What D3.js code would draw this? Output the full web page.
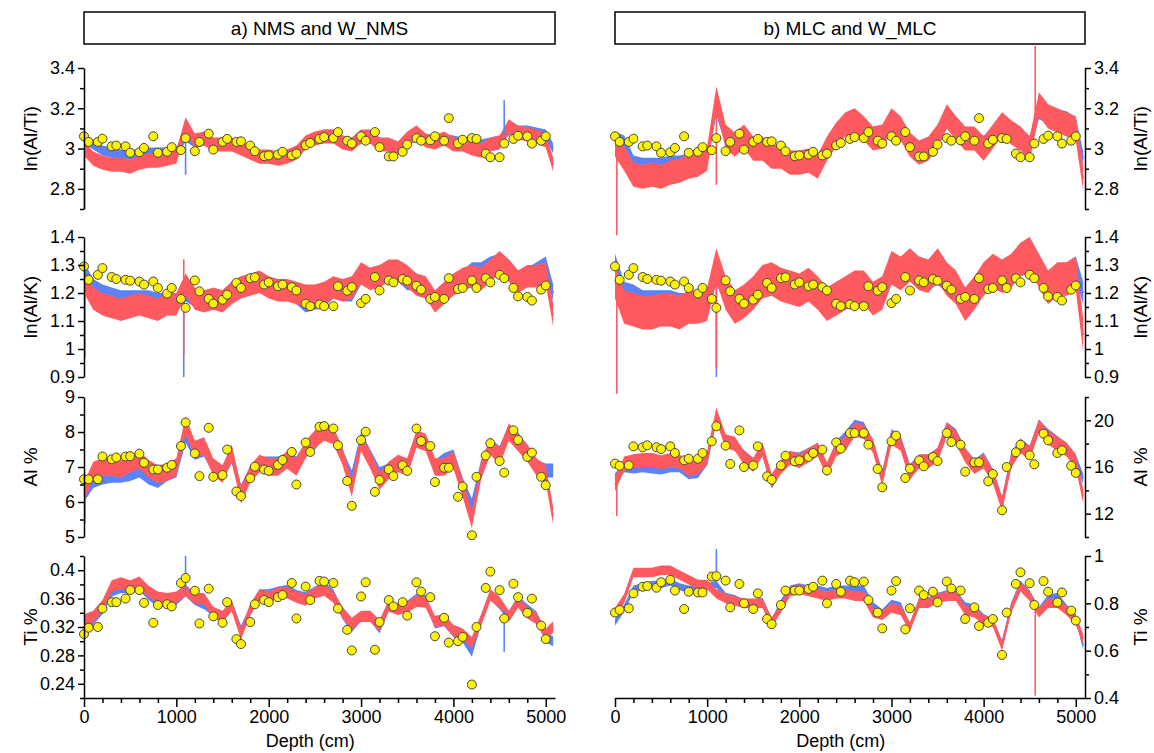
<!DOCTYPE html>
<html>
<head>
<meta charset="utf-8">
<script src="https://cdn.jsdelivr.net/npm/d3@7"></script>
<style>
  body { margin: 0; background: #fff; }
  svg text { font-family: "Liberation Sans", Arial, sans-serif; fill: #000; }
</style>
</head>
<body>
<svg id="chart" width="1154" height="753"></svg>
<script>
// depth grid of the scanner series (cm)
const depthGrid = [0,100,200,300,400,500,600,700,800,900,1000,1100,1200,1300,1400,1500,1600,1700,1800,1900,
  2000,2100,2200,2300,2400,2500,2600,2700,2800,2900,3000,3100,3200,3300,3400,3500,3600,3700,3800,3900,
  4000,4100,4200,4300,4400,4500,4600,4700,4800,4900,5000,5080]

// depths of the discrete (yellow) samples
const dotDepth = [0,50,150,200,300,350,450,500,600,650,750,800,900,950,1050,1100,1200,1250,1350,1400,
  1500,1550,1650,1700,1800,1850,1950,2000,2100,2150,2250,2300,2400,2450,2550,2600,2700,2750,2850,2900,
  3000,3050,3150,3200,3300,3350,3450,3500,3600,3650,3750,3800,3900,3950,4050,4100,4200,4250,4350,4400,
  4500,4550,4650,4700,4800,4850,4950,5000]

const rowLabels = ["ln(Al/Ti)", "ln(Al/K)", "Al %", "Ti %"]

// ---- panel a : NMS (blue) and W_NMS (red)
const nmsAlTi  = [3.05,3.02,2.99,2.98,2.97,2.97,2.97,2.98,2.98,2.98, 2.98,3.06,3.03,3.04,3.02,3.02,3.02,3.00,2.98,2.96,
  2.96,2.96,2.96,2.98,3.03,3.05,3.07,3.07,3.04,3.03, 3.05,3.05,3.03,3.02,3.01,3.04,3.06,3.04,3.04,3.05,
  3.04,3.03,3.02,3.02,3.03,3.04,3.09,3.09,3.09,3.08, 3.07,3.00]
const wnmsAlTi = [3.00,2.95,2.93,2.92,2.92,2.91,2.93,2.94,2.94,2.95, 2.96,3.12,3.04,3.05,3.02,3.02,3.02,3.00,2.98,2.96,
  2.96,2.95,2.96,2.98,3.03,3.05,3.06,3.06,3.03,3.02, 3.06,3.06,3.02,3.02,3.00,3.05,3.08,3.04,3.03,3.05,
  3.02,3.02,3.00,2.99,3.02,3.03,3.11,3.08,3.07,3.06, 3.04,2.92]
const nmsAlK   = [1.28,1.22,1.20,1.19,1.18,1.18,1.18,1.18,1.17,1.17, 1.17,1.20,1.18,1.17,1.18,1.18,1.21,1.23,1.23,1.23,
  1.22,1.21,1.21,1.19,1.16,1.17,1.18,1.21,1.20,1.20, 1.26,1.26,1.27,1.28,1.27,1.24,1.24,1.21,1.17,1.20,
  1.23,1.25,1.28,1.28,1.30,1.31,1.29,1.25,1.26,1.28, 1.30,1.20]
const wnmsAlK  = [1.24,1.18,1.16,1.15,1.14,1.15,1.16,1.15,1.14,1.16, 1.16,1.23,1.18,1.17,1.18,1.17,1.20,1.22,1.23,1.24,
  1.22,1.21,1.21,1.20,1.19,1.19,1.20,1.22,1.21,1.22, 1.27,1.25,1.26,1.28,1.28,1.26,1.23,1.22,1.17,1.20,
  1.23,1.25,1.26,1.25,1.28,1.31,1.28,1.24,1.26,1.26, 1.27,1.12]
const nmsAl    = [6.2,6.6,6.7,6.75,6.75,6.8,6.9,6.7,6.6,6.8, 6.9,7.9,7.4,7.5,7.0,6.85,7.3,6.3,6.8,7.1,
  7.1,7.1,7.2,7.1,7.5,7.7,8.0,7.9,7.3,6.7, 7.8,7.3,6.8,6.9,7.1,7.0,7.8,7.7,7.0,7.2,
  7.3,6.5,5.9,7.0,7.6,7.4,8.0,7.8,7.4,7.0, 6.9,6.9]
const wnmsAl   = [6.3,6.9,7.0,7.0,6.95,7.1,7.2,6.95,6.8,6.85, 7.0,8.2,7.5,7.6,7.0,6.8,7.4,6.2,6.8,7.1,
  7.0,7.0,7.2,7.0,7.5,7.8,8.0,7.9,7.3,6.4, 7.7,7.2,6.6,6.9,7.1,7.0,7.8,7.7,7.0,7.0,
  7.2,6.4,5.5,6.9,7.6,7.3,8.0,7.7,7.4,7.0, 6.8,5.6]
const nmsTi    = [0.32,0.33,0.345,0.37,0.375,0.374,0.378,0.365,0.355,0.355, 0.358,0.37,0.358,0.352,0.342,0.333,0.35,0.315,0.343,0.366,
  0.366,0.37,0.372,0.365,0.362,0.37,0.376,0.366,0.338,0.32, 0.335,0.335,0.318,0.35,0.346,0.35,0.36,0.358,0.325,0.328,
  0.313,0.305,0.285,0.33,0.365,0.352,0.335,0.357,0.345,0.335, 0.305,0.30]
const wnmsTi   = [0.33,0.335,0.35,0.378,0.382,0.378,0.383,0.37,0.362,0.36, 0.362,0.372,0.36,0.36,0.34,0.335,0.35,0.31,0.345,0.365,
  0.362,0.368,0.368,0.362,0.358,0.368,0.372,0.362,0.34,0.325, 0.335,0.335,0.322,0.35,0.345,0.348,0.356,0.355,0.328,0.33,
  0.315,0.31,0.298,0.33,0.365,0.355,0.335,0.355,0.34,0.332, 0.31,0.32]

// ---- panel b : MLC (blue) and W_MLC (red)
const mlcAlTi  = [3.05,3.03,2.93,2.92,2.92,2.92,2.93,2.93,2.94,2.94, 2.96,3.20,3.05,3.02,3.04,3.00,3.00,2.97,2.96,2.94,
  2.94,2.94,2.94,3.00,3.06,3.10,3.14,3.10,3.05,3.05, 3.12,3.10,3.02,2.98,3.00,3.05,3.14,3.10,3.05,3.05,
  3.03,3.05,3.10,3.08,3.05,3.03,3.18,3.16,3.16,3.15, 3.12,2.95]
const wmlcAlTi = [3.02,2.95,2.87,2.86,2.87,2.86,2.88,2.89,2.91,2.92, 2.95,3.25,3.06,3.02,3.06,3.00,3.00,2.96,2.96,2.93,
  2.93,2.94,2.91,3.00,3.07,3.12,3.14,3.10,3.05,3.06, 3.14,3.10,3.02,2.98,3.00,3.06,3.16,3.10,3.05,3.05,
  3.00,3.06,3.12,3.08,3.05,3.00,3.22,3.16,3.14,3.12, 3.10,2.85]
const mlcAlK   = [1.30,1.20,1.19,1.17,1.17,1.17,1.17,1.16,1.16,1.16, 1.17,1.27,1.20,1.16,1.18,1.20,1.24,1.25,1.24,1.23,
  1.21,1.22,1.19,1.15,1.16,1.18,1.20,1.20,1.17,1.20, 1.27,1.26,1.28,1.27,1.25,1.27,1.24,1.21,1.15,1.20,
  1.25,1.27,1.26,1.28,1.30,1.31,1.27,1.22,1.25,1.27, 1.29,1.20]
const wmlcAlK  = [1.24,1.15,1.14,1.13,1.13,1.14,1.14,1.13,1.15,1.15, 1.16,1.30,1.20,1.15,1.17,1.20,1.24,1.25,1.23,1.22,
  1.21,1.23,1.20,1.16,1.18,1.20,1.22,1.22,1.18,1.20, 1.29,1.27,1.30,1.27,1.26,1.30,1.25,1.22,1.16,1.20,
  1.25,1.28,1.26,1.28,1.32,1.34,1.28,1.22,1.25,1.25, 1.27,1.05]
const mlcAl    = [15.0,16.0,15.9,16.0,15.9,15.8,16.0,16.0,15.4,15.5, 16.6,20.3,18.3,17.8,17.0,16.3,17.4,14.6,16.0,16.9,
  16.8,17.2,17.6,15.8,17.8,18.6,19.6,19.4,17.8,15.2, 18.8,18.2,15.8,16.6,16.6,17.2,19.4,18.8,17.2,16.2,
  16.8,15.4,13.0,16.8,18.0,17.4,19.6,18.8,18.2,17.6, 16.6,15.0]
const wmlcAl   = [14.5,16.3,16.5,16.6,16.6,16.4,16.6,16.5,15.8,16.0, 16.8,20.5,18.2,18.0,16.8,16.2,17.5,14.8,16.0,16.8,
  16.5,17.0,17.5,15.8,17.5,18.0,19.2,19.0,17.8,15.0, 18.5,18.0,15.5,16.5,16.5,17.0,19.2,18.5,17.0,16.0,
  16.5,15.2,12.8,16.5,17.8,17.2,19.5,18.5,18.0,17.5, 16.5,13.5]
const mlcTi    = [0.72,0.78,0.86,0.87,0.88,0.88,0.89,0.87,0.86,0.86, 0.87,0.88,0.83,0.82,0.80,0.80,0.81,0.72,0.80,0.86,
  0.87,0.86,0.86,0.85,0.86,0.86,0.86,0.86,0.79,0.76, 0.80,0.79,0.70,0.81,0.81,0.83,0.84,0.84,0.79,0.78,
  0.74,0.72,0.63,0.79,0.88,0.84,0.77,0.82,0.83,0.78, 0.74,0.62]
const wmlcTi   = [0.76,0.82,0.93,0.93,0.93,0.94,0.94,0.92,0.90,0.88, 0.88,0.84,0.82,0.81,0.80,0.80,0.80,0.72,0.78,0.85,
  0.86,0.85,0.84,0.83,0.84,0.84,0.83,0.83,0.76,0.75, 0.78,0.77,0.70,0.80,0.80,0.82,0.83,0.83,0.77,0.76,
  0.73,0.72,0.62,0.78,0.87,0.83,0.76,0.80,0.80,0.77, 0.73,0.65]

// scatter of the scanner signal (half width of the band, in data units) per row
const noiseNMS  = [0.025, 0.03, 0.2, 0.007]
const noiseWNMS = [0.035, 0.04, 0.25, 0.008]
const noiseMLC  = [0.035, 0.04, 0.45, 0.015]
const noiseWMLC = [0.06, 0.06, 0.6, 0.02]

// single-sample spikes: [row, series (0 blue, 1 red), depth, value]
const spikesNMS = [[0,1,5,2.7],[0,0,1100,2.87],[0,0,4550,3.24],[1,1,10,0.97],[1,0,1080,0.9],[1,1,1080,0.98],
  [1,1,1080,1.32],[2,1,10,5.4],[3,0,1100,0.42],[3,0,4550,0.285]]
const spikesMLC = [[0,1,20,2.57],[0,1,1100,2.82],[0,1,4560,3.51],[1,1,20,0.84],[1,0,1100,0.9],[1,1,1100,0.93],
  [2,1,20,11.8],[3,0,1100,1.03],[3,1,4560,0.41]]

// discrete samples
const dotAlTi = [3.061,3.033,3.033,3.049,3.011,3.015,3.011,2.979,2.982,3.003, 3.061,2.979,2.984,3.007,2.992,3.052,2.987,3.033,3.074,2.995,
  3.033,3.048,3.033,3.036,3.015,2.987,2.962,2.966,2.970,2.984, 2.966,2.975,3.016,3.028,3.048,3.057,3.052,3.082,3.039,3.025,
  3.061,3.039,3.082,3.007,2.961,2.961,2.984,3.020,3.052,3.039, 3.041,3.061,3.039,3.151,3.025,3.044,3.052,3.048,2.975,2.957,
  2.957,3.025,3.048,3.064,3.061,3.025,3.039,3.061]
const dotAlK = [1.295,1.247,1.265,1.289,1.257,1.250,1.247,1.244,1.241,1.230, 1.241,1.218,1.198,1.218,1.179,1.147,1.245,1.206,1.179,1.162,
  1.176,1.194,1.236,1.218,1.253,1.256,1.230,1.238,1.224,1.230, 1.221,1.209,1.162,1.153,1.159,1.153,1.153,1.224,1.208,1.221,
  1.164,1.179,1.257,1.209,1.245,1.238,1.250,1.244,1.226,1.212, 1.179,1.186,1.179,1.253,1.214,1.218,1.245,1.218,1.253,1.238,
  1.265,1.253,1.218,1.188,1.186,1.173,1.212,1.227]
const dotAlNMS = [6.65,6.65,6.65,7.30,7.22,7.27,7.30,7.31,7.38,7.12, 6.93,6.93,6.98,7.06,7.60,8.27,7.39,6.74,8.12,6.72,
  6.77,7.50,6.30,6.17,6.68,7.01,6.93,6.89,7.06,7.20, 7.43,6.50,7.70,7.43,8.15,8.17,8.10,7.62,6.60,5.89,
  7.77,8.01,6.29,6.63,6.93,6.74,7.05,6.89,8.10,7.74, 7.60,6.57,6.98,6.98,6.15,6.44,5.05,6.72,7.33,7.68,
  7.17,6.84,8.05,7.77,7.29,7.41,6.72,6.48]
const dotTiNMS = [0.310,0.319,0.320,0.346,0.355,0.355,0.360,0.372,0.372,0.354, 0.326,0.351,0.352,0.349,0.382,0.389,0.371,0.325,0.374,0.335,
  0.326,0.355,0.303,0.296,0.327,0.352,0.358,0.355,0.362,0.365, 0.382,0.332,0.377,0.358,0.385,0.384,0.382,0.346,0.316,0.287,
  0.363,0.383,0.288,0.327,0.358,0.349,0.355,0.336,0.383,0.370, 0.362,0.307,0.333,0.298,0.300,0.306,0.239,0.320,0.375,0.398,
  0.372,0.332,0.381,0.362,0.340,0.360,0.322,0.303]
const dotAlMLC = [16.29,16.11,16.14,17.77,17.69,17.86,17.69,17.54,17.77,17.20, 16.57,16.71,16.71,17.20,18.20,19.49,17.83,16.26,19.14,16.00,
  16.14,17.77,15.20,14.91,16.14,16.97,16.49,16.57,16.86,17.20, 17.49,15.71,18.11,17.57,18.91,18.91,18.91,17.91,15.83,14.26,
  18.20,18.69,15.06,15.86,16.57,16.06,16.86,16.51,18.91,18.14, 17.91,15.60,16.40,16.40,14.77,15.40,12.29,16.00,17.26,17.91,
  17.00,16.23,18.86,18.29,17.20,17.43,16.11,15.49]
const dotTiMLC = [0.761,0.772,0.779,0.842,0.870,0.873,0.866,0.889,0.899,0.854, 0.776,0.849,0.846,0.846,0.913,0.915,0.896,0.783,0.882,0.800,
  0.776,0.842,0.734,0.712,0.793,0.854,0.854,0.854,0.861,0.870, 0.896,0.800,0.882,0.849,0.896,0.889,0.892,0.814,0.761,0.694,
  0.854,0.894,0.690,0.779,0.854,0.835,0.849,0.804,0.892,0.863, 0.854,0.734,0.783,0.704,0.718,0.734,0.582,0.761,0.882,0.931,
  0.885,0.793,0.894,0.849,0.804,0.846,0.769,0.727]

const xTicks = [0,1000,2000,3000,4000,5000]
const xMinor = [200,400,600,800,1200,1400,1600,1800,2200,2400,2600,2800,3200,3400,3600,3800,4200,4400,4600,4800]

// ---- layout
const BLUE = "#5b82f7", RED = "#ff5a5f", DOT = "#fff200"
const rowRange = [[209, 68], [377, 237], [537, 397], [698, 556]]

const panels = [
  { title: "a) NMS and W_NMS", x0: 84, x1: 555, side: "left",
    domains: [[2.7, 3.4], [0.9, 1.4], [5, 9], [0.22, 0.42]],
    major: [[2.8, 3, 3.2, 3.4], [0.9, 1, 1.1, 1.2, 1.3, 1.4], [5, 6, 7, 8, 9], [0.24, 0.28, 0.32, 0.36, 0.4]],
    minor: [[2.7, 2.9, 3.1, 3.3], [0.95, 1.05, 1.15, 1.25, 1.35], [5.5, 6.5, 7.5, 8.5], [0.22, 0.26, 0.3, 0.34, 0.38, 0.42]],
    blue: [nmsAlTi, nmsAlK, nmsAl, nmsTi], red: [wnmsAlTi, wnmsAlK, wnmsAl, wnmsTi],
    noise: [noiseNMS, noiseWNMS], spikes: spikesNMS,
    dots: [dotAlTi, dotAlK, dotAlNMS, dotTiNMS] },
  { title: "b) MLC and W_MLC", x0: 615, x1: 1085, side: "right",
    domains: [[2.7, 3.4], [0.9, 1.4], [10, 22], [0.4, 1.0]],
    major: [[2.8, 3, 3.2, 3.4], [0.9, 1, 1.1, 1.2, 1.3, 1.4], [12, 16, 20], [0.4, 0.6, 0.8, 1]],
    minor: [[2.7, 2.9, 3.1, 3.3], [0.95, 1.05, 1.15, 1.25, 1.35], [10, 14, 18, 22], [0.5, 0.7, 0.9]],
    blue: [mlcAlTi, mlcAlK, mlcAl, mlcTi], red: [wmlcAlTi, wmlcAlK, wmlcAl, wmlcTi],
    noise: [noiseMLC, noiseWMLC], spikes: spikesMLC,
    dots: [dotAlTi, dotAlK, dotAlMLC, dotTiMLC] }
]

const svg = d3.select("#chart")
const fmt = d3.format("~g")

panels.forEach(p => {
  const x = d3.scaleLinear().domain([0, 5100]).range([p.x0, p.x1])

  // title box
  svg.append("rect").attr("x", p.x0).attr("y", 12).attr("width", p.x1 - p.x0).attr("height", 32)
    .attr("fill", "#fff").attr("stroke", "#000").attr("stroke-width", 1.5)
  svg.append("text").attr("x", (p.x0 + p.x1) / 2).attr("y", 35).attr("text-anchor", "middle")
    .style("font-size", "19px").text(p.title)

  const axisX = p.side === "left" ? p.x0 : p.x1

  rowLabels.forEach((lab, r) => {
    const y = d3.scaleLinear().domain(p.domains[r]).range(rowRange[r])
    const g = svg.append("g")

    // scanner series as bands, blue under red
    const series = [p.blue[r], p.red[r]]
    series.forEach((vals, s) => {
      const n = p.noise[s][r]
      const pts = depthGrid.map((d, i) => [d, vals[i]])
      g.append("path").datum(pts)
        .attr("fill", s ? RED : BLUE)
        .attr("d", d3.area().x(d => x(d[0])).y0(d => y(d[1] - n)).y1(d => y(d[1] + n)))
      g.append("path").datum(pts)
        .attr("fill", "none").attr("stroke", s ? RED : BLUE).attr("stroke-width", 1.5)
        .attr("d", d3.line().x(d => x(d[0])).y(d => y(d[1])))
    })

    // spikes
    p.spikes.filter(sp => sp[0] === r).forEach(sp => {
      const vals = sp[1] ? p.red[r] : p.blue[r]
      const base = d3.scaleLinear().domain(depthGrid).range(vals)(sp[2])
      g.append("line")
        .attr("x1", x(sp[2])).attr("x2", x(sp[2]))
        .attr("y1", y(base)).attr("y2", y(sp[3]))
        .attr("stroke", sp[1] ? RED : BLUE).attr("stroke-width", 1.6)
    })

    // discrete samples
    g.selectAll("circle").data(p.dots[r]).join("circle")
      .attr("cx", (d, i) => x(dotDepth[i])).attr("cy", d => y(d)).attr("r", 4.5)
      .attr("fill", DOT).attr("stroke", "#444").attr("stroke-width", 1)

    // y axis
    const mk = p.side === "left" ? d3.axisLeft : d3.axisRight
    const ax = svg.append("g").attr("transform", `translate(${axisX},0)`)
      .call(mk(y).tickValues(p.major[r]).tickFormat(fmt).tickSize(6).tickSizeOuter(0).tickPadding(3))
    ax.select(".domain").attr("stroke-width", 1.5)
    ax.selectAll(".tick line").attr("stroke-width", 1.5)
    ax.selectAll("text").style("font-size", "18px").attr("font-family", null)
    const am = svg.append("g").attr("transform", `translate(${axisX},0)`)
      .call(mk(y).tickValues(p.minor[r]).tickFormat("").tickSize(4).tickSizeOuter(0))
    am.select(".domain").remove()
    am.selectAll(".tick line").attr("stroke-width", 1.5)

    // axis title
    const cy = (rowRange[r][0] + rowRange[r][1]) / 2
    const tx = p.side === "left" ? 30 : 1140
    svg.append("text").attr("transform", `translate(${tx},${cy}) rotate(-90)`)
      .attr("text-anchor", "middle").attr("dy", "0.35em")
      .style("font-size", "19px").text(lab)
  })

  // depth axis
  const xa = svg.append("g").attr("transform", `translate(0,${rowRange[3][0]})`)
    .call(d3.axisBottom(x).tickValues(xTicks).tickFormat(d3.format("d")).tickSize(9).tickSizeOuter(0).tickPadding(3))
  xa.select(".domain").attr("stroke-width", 1.5)
  xa.selectAll(".tick line").attr("stroke-width", 1.5)
  xa.selectAll("text").style("font-size", "18px").attr("font-family", null)
  const xm = svg.append("g").attr("transform", `translate(0,${rowRange[3][0]})`)
    .call(d3.axisBottom(x).tickValues(xMinor).tickFormat("").tickSize(5).tickSizeOuter(0))
  xm.select(".domain").remove()
  xm.selectAll(".tick line").attr("stroke-width", 1.5)

  svg.append("text").attr("x", x(2450)).attr("y", 747).attr("text-anchor", "middle")
    .style("font-size", "18px").text("Depth (cm)")
})
</script>
</body>
</html>
